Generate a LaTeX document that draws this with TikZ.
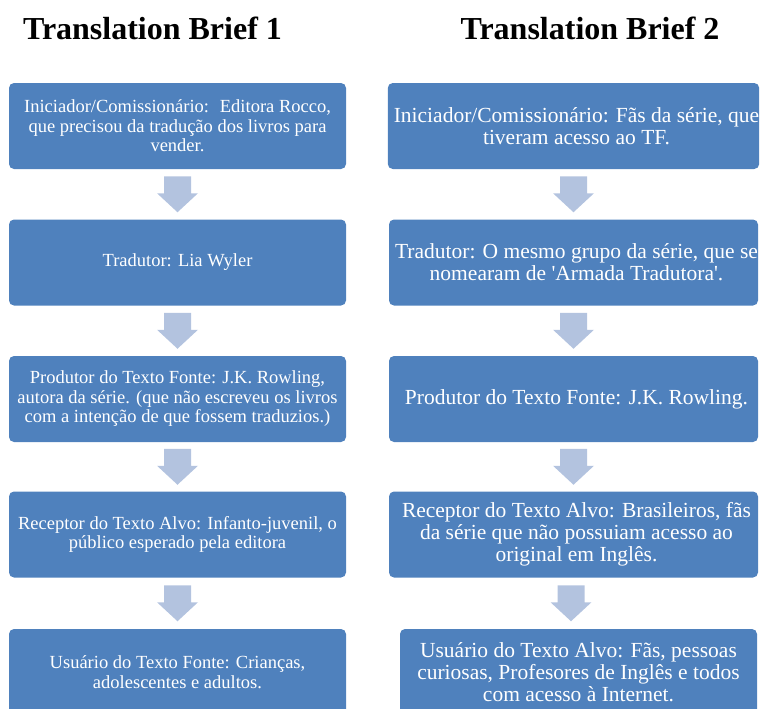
\documentclass[tikz,border=0pt]{standalone}
\usepackage{fontspec}
\setmainfont{Liberation Serif}[Ligatures=TeXOff]
\usetikzlibrary{calc}
\definecolor{boxblue}{HTML}{4F81BD}
\definecolor{arrowblue}{HTML}{B3C3DF}
\tikzset{
  box/.style={fill=boxblue, rounded corners=5pt, text=white, align=center, inner sep=0pt, minimum height=86pt},
  lbox/.style={box, minimum width=337pt, font=\fontsize{18.5}{19.5}\selectfont},
  rbox/.style={box, minimum width=369pt, font=\fontsize{21.5}{22}\selectfont},
  title/.style={font=\fontsize{32}{34}\selectfont\bfseries, text=black, inner sep=0pt},
  downarrow/.pic={\fill[arrowblue] (-13.5,-18) -- (13.5,-18) -- (13.5,-1) -- (20.5,-1) -- (0,18) -- (-20.5,-1) -- (-13.5,-1) -- cycle;}
}
\begin{document}
\begin{tikzpicture}[x=1pt, y=-1pt]
\useasboundingbox (0,0) rectangle (760,709);
\clip (0,0) rectangle (760,709);
\node[title] (t1) at (152.5,28) {Translation Brief 1};
\node[title] (t2) at (590,28) {Translation Brief 2};

\node[lbox] (l1) at (177.5,126) {Iniciador/Comissionário:~ Editora Rocco,\\que precisou da tradução dos livros para\\vender.};
\node[lbox] (l2) at (177.5,262.5) {Tradutor: Lia Wyler};
\node[lbox] (l3) at (177.5,399) {Produtor do Texto Fonte: J.K. Rowling,\\autora da série. (que não escreveu os livros\\com a intenção de que fossem traduzios.)};
\node[lbox] (l4) at (177.5,534.5) {Receptor do Texto Alvo: Infanto-juvenil, o\\público esperado pela editora};
\node[lbox] (l5) at (177.5,672) {Usuário do Texto Fonte: Crianças,\\adolescentes e adultos.};

\node[rbox] (r1) at (573.5,126) {\hspace*{6pt}Iniciador/Comissionário: Fãs da série, que\\\hspace*{6pt}tiveram acesso ao TF.};
\node[rbox] (r2) at (573.5,262.5) {\hspace*{6pt}Tradutor: O mesmo grupo da série, que se\\\hspace*{6pt}nomearam de 'Armada Tradutora'.};
\node[rbox] (r3) at (573.5,399) {\hspace*{6pt}Produtor do Texto Fonte: J.K. Rowling.};
\node[rbox] (r4) at (573.5,534.5) {\hspace*{6pt}Receptor do Texto Alvo: Brasileiros, fãs\\\hspace*{6pt}da série que não possuiam acesso ao\\\hspace*{6pt}original em Inglês.};
\node[rbox, minimum width=357pt] (r5) at (578.5,672) {Usuário do Texto Alvo: Fãs, pessoas\\curiosas, Profesores de Inglês e todos\\com acesso à Internet.};

\foreach \a/\b in {l1/l2,l2/l3,l3/l4,l4/l5,r1/r2,r2/r3,r3/r4} {
  \path ($(\a.south)!0.5!(\b.north)$) pic {downarrow};
}
\path ($(r4.south)!0.5!(r5.north)$) ++(-5,0) pic {downarrow};
\end{tikzpicture}
\end{document}
